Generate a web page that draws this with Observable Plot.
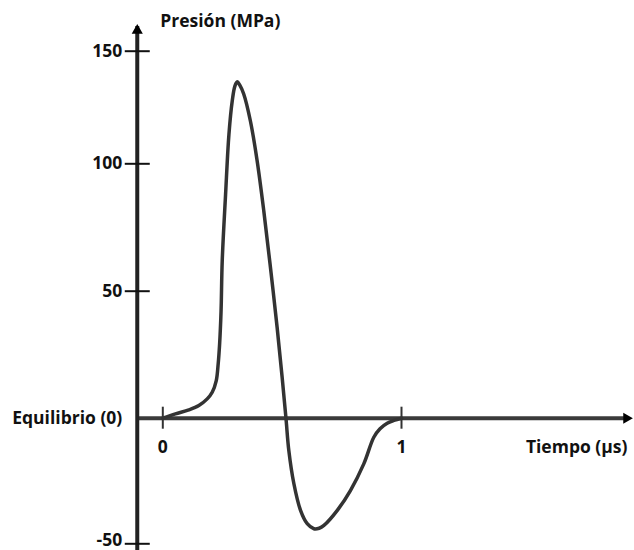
<!DOCTYPE html>
<html>
<head>
<meta charset="utf-8">
<script src="https://cdn.jsdelivr.net/npm/d3@7"></script>
<script src="https://cdn.jsdelivr.net/npm/@observablehq/plot@0.6"></script>
<style>
  html, body { margin: 0; padding: 0; background: #fff; }
  svg { display: block; }
</style>
</head>
<body>
<div id="chart"></div>
<script>
// Time (µs) and pressure (MPa)
const tiempo = [0, 0.053, 0.109, 0.151, 0.186, 0.207, 0.224, 0.232, 0.238, 0.244, 0.249, 0.263, 0.277, 0.291, 0.302, 0.312, 0.322, 0.339, 0.367, 0.395, 0.423, 0.451, 0.479, 0.5, 0.516, 0.528, 0.549, 0.577, 0.605, 0.633, 0.655, 0.675, 0.731, 0.786, 0.842, 0.884, 0.91, 0.94, 0.968, 1.0];
const presion = [0, 1.7, 3.3, 5.0, 7.6, 10.2, 14.8, 21.4, 29.2, 42, 62, 88, 113, 128, 134.5, 136.4, 135, 131, 119, 101.5, 81.6, 59.3, 35.7, 16.1, 0, -12.9, -26, -36.7, -42, -44, -43.8, -42.7, -36.7, -28.8, -18.2, -7.6, -4.2, -2, -0.9, 0];

// Axis ticks and labels
const yTickValues = [-50, 0, 50, 100, 150];
const yTickLabels = ["-50", "Equilibrio (0)", "50", "100", "150"];
const yTickMarks = [-50, 50, 100, 150];
const xTickValues = [0, 1];
const xTickLabels = ["0", "1"];
const yTitle = "Presión (MPa)";
const xTitle = "Tiempo (µs)";

// Axis extents (data units)
const yAxisAt = -0.107;
const xAxisEnd = 1.976;
const yAxisTop = 161;
const yAxisBottom = -55;

const curve = tiempo.map((t, i) => ({t, p: presion[i]}));
const yTicks = yTickValues.map((v, i) => ({v, label: yTickLabels[i]}));
const xTicks = xTickValues.map((v, i) => ({v, label: xTickLabels[i]}));

const font = "'Open Sans', 'Noto Sans', sans-serif";

const chart = Plot.plot({
  width: 634,
  height: 550,
  margin: 0,
  style: {fontFamily: font, fontSize: "17.5px", fontWeight: 700, color: "#111", background: "#fff"},
  x: {domain: [0, 1], range: [162.3, 401], axis: null},
  y: {type: "linear", domain: [-50, 0, 50, 100, 150], range: [543.3, 417.7, 290.7, 163.3, 50.7], axis: null},
  marks: [
    // x axis line
    Plot.ruleY([0], {x1: yAxisAt, x2: xAxisEnd, insetRight: 10, stroke: "#3a3a3a", strokeWidth: 4}),
    // y axis line
    Plot.ruleX([yAxisAt], {y1: yAxisBottom, y2: yAxisTop, stroke: "#222", strokeWidth: 4}),
    // arrowheads
    Plot.dot([{x: xAxisEnd, y: 0}], {x: "x", y: "y", dx: -8, symbol: "triangle2", rotate: 90, r: 5.3, fill: "#000", stroke: "none"}),
    Plot.dot([{x: yAxisAt, y: yAxisTop}], {x: "x", y: "y", dy: 4, symbol: "triangle2", r: 5.3, fill: "#000", stroke: "none"}),
    // y tick marks (straddling axis)
    Plot.ruleY(yTickMarks, {y: d => d, x1: yAxisAt, x2: yAxisAt, insetLeft: -12, insetRight: -13, stroke: "#111", strokeWidth: 2}),
    // x tick marks
    Plot.ruleX(xTickValues, {x: d => d, y1: 0, y2: 0, insetTop: -11, insetBottom: -11, stroke: "#333", strokeWidth: 2}),
    // y tick labels
    Plot.text(yTicks, {filter: d => d.v !== -50, x: yAxisAt, y: "v", text: "label", textAnchor: "end", dx: -15, fill: "#111"}),
    Plot.text(yTicks, {filter: d => d.v === -50, x: yAxisAt, y: "v", text: "label", textAnchor: "end", dx: -15, dy: -3, fill: "#111"}),
    // x tick labels
    Plot.text(xTicks, {x: "v", y: 0, text: "label", dy: 29, fill: "#111"}),
    // titles
    Plot.text([yTitle], {x: yAxisAt, y: yAxisTop, text: d => d, textAnchor: "start", dx: 23, dy: -5, fill: "#111"}),
    Plot.text([xTitle], {x: xAxisEnd, y: 0, text: d => d, textAnchor: "end", dx: -7, dy: 29, fill: "#111"}),
    // pressure curve
    Plot.line(curve, {x: "t", y: "p", curve: "catmull-rom", stroke: "#333", strokeWidth: 3.5, strokeLinejoin: "round", strokeLinecap: "round"})
  ]
});
document.getElementById("chart").appendChild(chart);
</script>
</body>
</html>
